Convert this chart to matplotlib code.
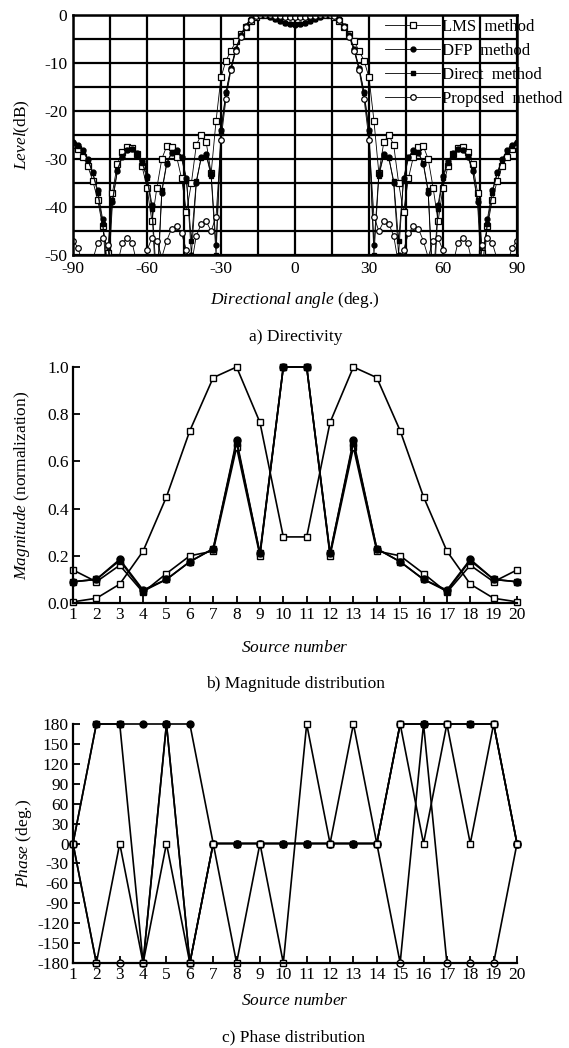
import numpy as np
import matplotlib
matplotlib.use("Agg")
import matplotlib.pyplot as plt

plt.rcParams['font.family'] = ['Liberation Serif', 'DejaVu Serif']
plt.rcParams['mathtext.fontset'] = 'custom'
plt.rcParams['mathtext.rm'] = 'Liberation Serif'
plt.rcParams['mathtext.it'] = 'Liberation Serif:italic'
plt.rcParams['axes.unicode_minus'] = False

# ---- a) directivity, read every 2 deg from -90 to 90
angle = np.arange(-90, 91, 2)

lms_db = [-27.0, -28.0, -29.5, -31.5, -34.5, -38.5, -44.0, -49.5, -37.0, -31.0,
          -28.5, -27.5, -27.8, -29.0, -31.5, -36.0, -43.0, -36.0, -30.0, -27.3,
          -27.5, -29.5, -34.0, -41.0, -35.0, -27.0, -25.0, -26.5, -33.0, -22.0,
          -13.0, -9.5, -7.5, -5.5, -4.0, -2.5, -1.3, -0.5, -0.1, 0.0,
          0.0, 0.0, 0.0, 0.0, 0.0, 0.0,
          0.0, 0.0, 0.0, 0.0, 0.0,
          0.0, -0.1, -0.5, -1.3, -2.5, -4.0, -5.5, -7.5, -9.5, -13.0,
          -22.0, -33.0, -26.5, -25.0, -27.0, -35.0, -41.0, -34.0, -29.5, -27.5,
          -27.3, -30.0, -36.0, -43.0, -36.0, -31.5, -29.0, -27.8, -27.5, -28.5,
          -31.0, -37.0, -49.5, -44.0, -38.5, -34.5, -31.5, -29.5, -28.0, -27.0]

dfp_db = [-26.5, -27.0, -28.2, -30.0, -32.8, -36.5, -42.5, -58.0, -39.0, -32.5,
          -29.5, -28.2, -28.0, -28.8, -30.5, -33.5, -39.5, -56.0, -37.0, -31.0,
          -28.8, -28.2, -29.5, -34.0, -50.0, -35.0, -29.5, -29.0, -33.0, -48.0,
          -24.0, -16.0, -11.0, -7.0, -4.2, -2.2, -0.8, -0.1, 0.0, -0.1,
          -0.4, -0.8, -1.2, -1.6, -1.9, -2.0,
          -1.9, -1.6, -1.2, -0.8, -0.4,
          -0.1, 0.0, -0.1, -0.8, -2.2, -4.2, -7.0, -11.0, -16.0, -24.0,
          -48.0, -33.0, -29.0, -29.5, -35.0, -50.0, -34.0, -29.5, -28.2, -28.8,
          -31.0, -37.0, -56.0, -39.5, -33.5, -30.5, -28.8, -28.0, -28.2, -29.5,
          -32.5, -39.0, -58.0, -42.5, -36.5, -32.8, -30.0, -28.2, -27.0, -26.5]

direct_db = [-26.7, -27.2, -28.4, -30.2, -33.0, -37.0, -43.5, -52.0, -38.5, -32.2,
             -29.3, -28.1, -28.0, -28.9, -30.8, -34.0, -40.5, -60.0, -36.5, -30.8,
             -28.6, -28.3, -29.8, -34.5, -47.0, -34.5, -29.8, -29.2, -33.5, -50.0,
             -24.5, -16.3, -11.2, -7.2, -4.3, -2.3, -0.9, -0.1, 0.0, -0.1,
             -0.4, -0.8, -1.2, -1.6, -1.8, -1.9,
             -1.8, -1.6, -1.2, -0.8, -0.4,
             -0.1, 0.0, -0.1, -0.9, -2.3, -4.3, -7.2, -11.2, -16.3, -24.5,
             -50.0, -33.5, -29.2, -29.8, -34.5, -47.0, -34.5, -29.8, -28.3, -28.6,
             -30.8, -36.5, -60.0, -40.5, -34.0, -30.8, -28.9, -28.0, -28.1, -29.3,
             -32.2, -38.5, -52.0, -43.5, -37.0, -33.0, -30.2, -28.4, -27.2, -26.7]

prop_db = [-47.0, -48.5, -52.0, -58.0, -51.0, -47.5, -46.5, -48.0, -53.0, -52.0,
           -47.5, -46.5, -47.5, -52.0, -56.0, -49.0, -46.5, -47.0, -50.5, -47.0,
           -44.5, -44.0, -45.5, -49.0, -52.0, -46.0, -43.5, -43.0, -45.0, -42.0,
           -26.0, -17.5, -11.5, -7.5, -4.5, -2.4, -1.0, -0.3, 0.0, 0.0,
           -0.1, -0.2, -0.3, -0.4, -0.5, -0.5,
           -0.5, -0.4, -0.3, -0.2, -0.1,
           0.0, 0.0, -0.3, -1.0, -2.4, -4.5, -7.5, -11.5, -17.5, -26.0,
           -42.0, -45.0, -43.0, -43.5, -46.0, -52.0, -49.0, -45.5, -44.0, -44.5,
           -47.0, -50.5, -47.0, -46.5, -49.0, -56.0, -52.0, -47.5, -46.5, -47.5,
           -52.0, -53.0, -48.0, -46.5, -47.5, -51.0, -58.0, -52.0, -48.5, -47.0]

# ---- b) magnitude and c) phase per source
source = np.arange(1, 21)

lms_mag = [0.005, 0.02, 0.08, 0.22, 0.45, 0.73, 0.955, 1.0, 0.765, 0.28,
           0.28, 0.765, 1.0, 0.955, 0.73, 0.45, 0.22, 0.08, 0.02, 0.005]
dfp_mag = [0.09, 0.10, 0.185, 0.055, 0.10, 0.175, 0.23, 0.69, 0.21, 1.0,
           1.0, 0.21, 0.69, 0.23, 0.175, 0.10, 0.055, 0.185, 0.10, 0.09]
direct_mag = [0.09, 0.10, 0.18, 0.05, 0.10, 0.175, 0.23, 0.68, 0.21, 1.0,
              1.0, 0.21, 0.68, 0.23, 0.175, 0.10, 0.05, 0.18, 0.10, 0.09]
prop_mag = [0.14, 0.09, 0.16, 0.045, 0.125, 0.20, 0.22, 0.66, 0.20, 1.0,
            1.0, 0.20, 0.66, 0.22, 0.20, 0.125, 0.045, 0.16, 0.09, 0.14]

lms_ph = [0, -180, 0, -180, 0, -180, 0, -180, 0, -180,
          180, 0, 180, 0, 180, 0, 180, 0, 180, 0]
dfp_ph = [0, 180, 180, 180, 180, 180, 0, 0, 0, 0,
          0, 0, 0, 0, 180, 180, 180, 180, 180, 0]
direct_ph = [0, 180, 180, -180, 180, -180, 0, 0, 0, 0,
             0, 0, 0, 0, 180, 180, 180, 180, 180, 0]
prop_ph = [0, -180, -180, -180, 180, -180, 0, 0, 0, 0,
           0, 0, 0, 0, -180, 180, -180, -180, -180, 0]

labels = ['LMS  method', 'DFP  method', 'Direct  method', 'Proposed  method']

W, H = 569, 1048
fig = plt.figure(figsize=(W / 100, H / 100), dpi=100)


def box(x0, y0, x1, y1):
    return [x0 / W, 1 - y1 / H, (x1 - x0) / W, (y1 - y0) / H]


# --- top plot
ax1 = fig.add_axes(box(73, 15, 517, 255))
s1 = dict(color='black', lw=0.6)
ax1.plot(angle, lms_db, marker='s', ms=4.5, mfc='white', mec='black', mew=0.9, **s1)
ax1.plot(angle, dfp_db, marker='o', ms=3.5, mfc='black', mec='black', **s1)
ax1.plot(angle, direct_db, marker='s', ms=3.5, mfc='black', mec='black', **s1)
ax1.plot(angle, prop_db, marker='o', ms=4.0, mfc='white', mec='black', mew=0.9, **s1)
ax1.set_xlim(-90, 90)
ax1.set_ylim(-50, 0)
ax1.set_xticks(np.arange(-90, 91, 15))
ax1.set_xticklabels(['-90', '', '-60', '', '-30', '', '0', '', '30', '', '60', '', '90'])
ax1.set_yticks(np.arange(-50, 1, 5))
ax1.set_yticklabels(['-50', '', '-40', '', '-30', '', '-20', '', '-10', '', '0'])
ax1.grid(True, color='black', lw=1.6)
ax1.tick_params(length=0, labelsize=12.5, pad=4)
for sp in ax1.spines.values():
    sp.set_linewidth(1.8)

leg = ax1.legend(labels, loc='upper left', bbox_to_anchor=(385 / W, 1 - 19 / H),
                 bbox_transform=fig.transFigure, frameon=False, fontsize=12,
                 handlelength=3.3, handletextpad=0.15, labelspacing=0.48,
                 borderpad=0, borderaxespad=0, numpoints=1)

fig.text(22 / W, 1 - 135 / H, r'$\it{Level}$(dB)', rotation=90, ha='center', va='center', fontsize=12.5)
fig.text(295 / W, 1 - 300 / H, r'$\it{Directional\ angle}$ (deg.)', ha='center', va='center', fontsize=12.5)
fig.text(296 / W, 1 - 337 / H, 'a) Directivity', ha='center', va='center', fontsize=12.5)

# --- middle plot (draw order: proposed, DFP, direct, LMS)
ax2 = fig.add_axes(box(73, 367, 517, 603))
s2 = dict(color='black', lw=1.2, clip_on=False)
ax2.plot(source, prop_mag, marker='s', ms=5, mfc='white', mec='black', mew=1, **s2)
ax2.plot(source, dfp_mag, marker='o', ms=5, mfc='black', mec='black', **s2)
ax2.plot(source, direct_mag, marker='s', ms=4.5, mfc='black', mec='black', **s2)
ax2.plot(source, lms_mag, marker='s', ms=5, mfc='white', mec='black', mew=1, **s2)
ax2.set_xlim(1, 20)
ax2.set_ylim(0, 1.0)
ax2.set_xticks(source)
ax2.set_yticks(np.arange(0, 1.01, 0.2))
ax2.set_yticklabels(['0.0', '0.2', '0.4', '0.6', '0.8', '1.0'])
ax2.spines['top'].set_visible(False)
ax2.spines['right'].set_visible(False)
ax2.tick_params(direction='in', length=5, width=1.3, labelsize=12.5, pad=3)
for sp in ax2.spines.values():
    sp.set_linewidth(1.6)

fig.text(22 / W, 1 - 485 / H, r'$\it{Magnitude}$ (normalization)', rotation=90, ha='center', va='center', fontsize=12.5)
fig.text(295 / W, 1 - 648 / H, r'$\it{Source\ number}$', ha='center', va='center', fontsize=12.5)
fig.text(296 / W, 1 - 684 / H, 'b) Magnitude distribution', ha='center', va='center', fontsize=12.5)

# --- bottom plot
ax3 = fig.add_axes(box(73, 724, 517, 963))
ax3.plot(source, prop_ph, marker='o', ms=5, mfc='white', mec='black', mew=1, **s2)
ax3.plot(source, dfp_ph, marker='o', ms=5, mfc='black', mec='black', **s2)
ax3.plot(source, direct_ph, marker='s', ms=4.5, mfc='black', mec='black', **s2)
ax3.plot(source, lms_ph, marker='s', ms=5, mfc='white', mec='black', mew=1, **s2)
ax3.set_xlim(1, 20)
ax3.set_ylim(-180, 180)
ax3.set_xticks(source)
ax3.set_yticks(np.arange(-180, 181, 30))
ax3.spines['top'].set_visible(False)
ax3.spines['right'].set_visible(False)
ax3.tick_params(direction='in', length=5, width=1.3, labelsize=12.5, pad=3)
for sp in ax3.spines.values():
    sp.set_linewidth(1.6)

fig.text(24 / W, 1 - 843 / H, r'$\it{Phase}$ (deg.)', rotation=90, ha='center', va='center', fontsize=12.5)
fig.text(295 / W, 1 - 1001 / H, r'$\it{Source\ number}$', ha='center', va='center', fontsize=12.5)
fig.text(294 / W, 1 - 1037 / H, 'c) Phase distribution', ha='center', va='center', fontsize=12.5)

fig.savefig('out.png', dpi=100)
